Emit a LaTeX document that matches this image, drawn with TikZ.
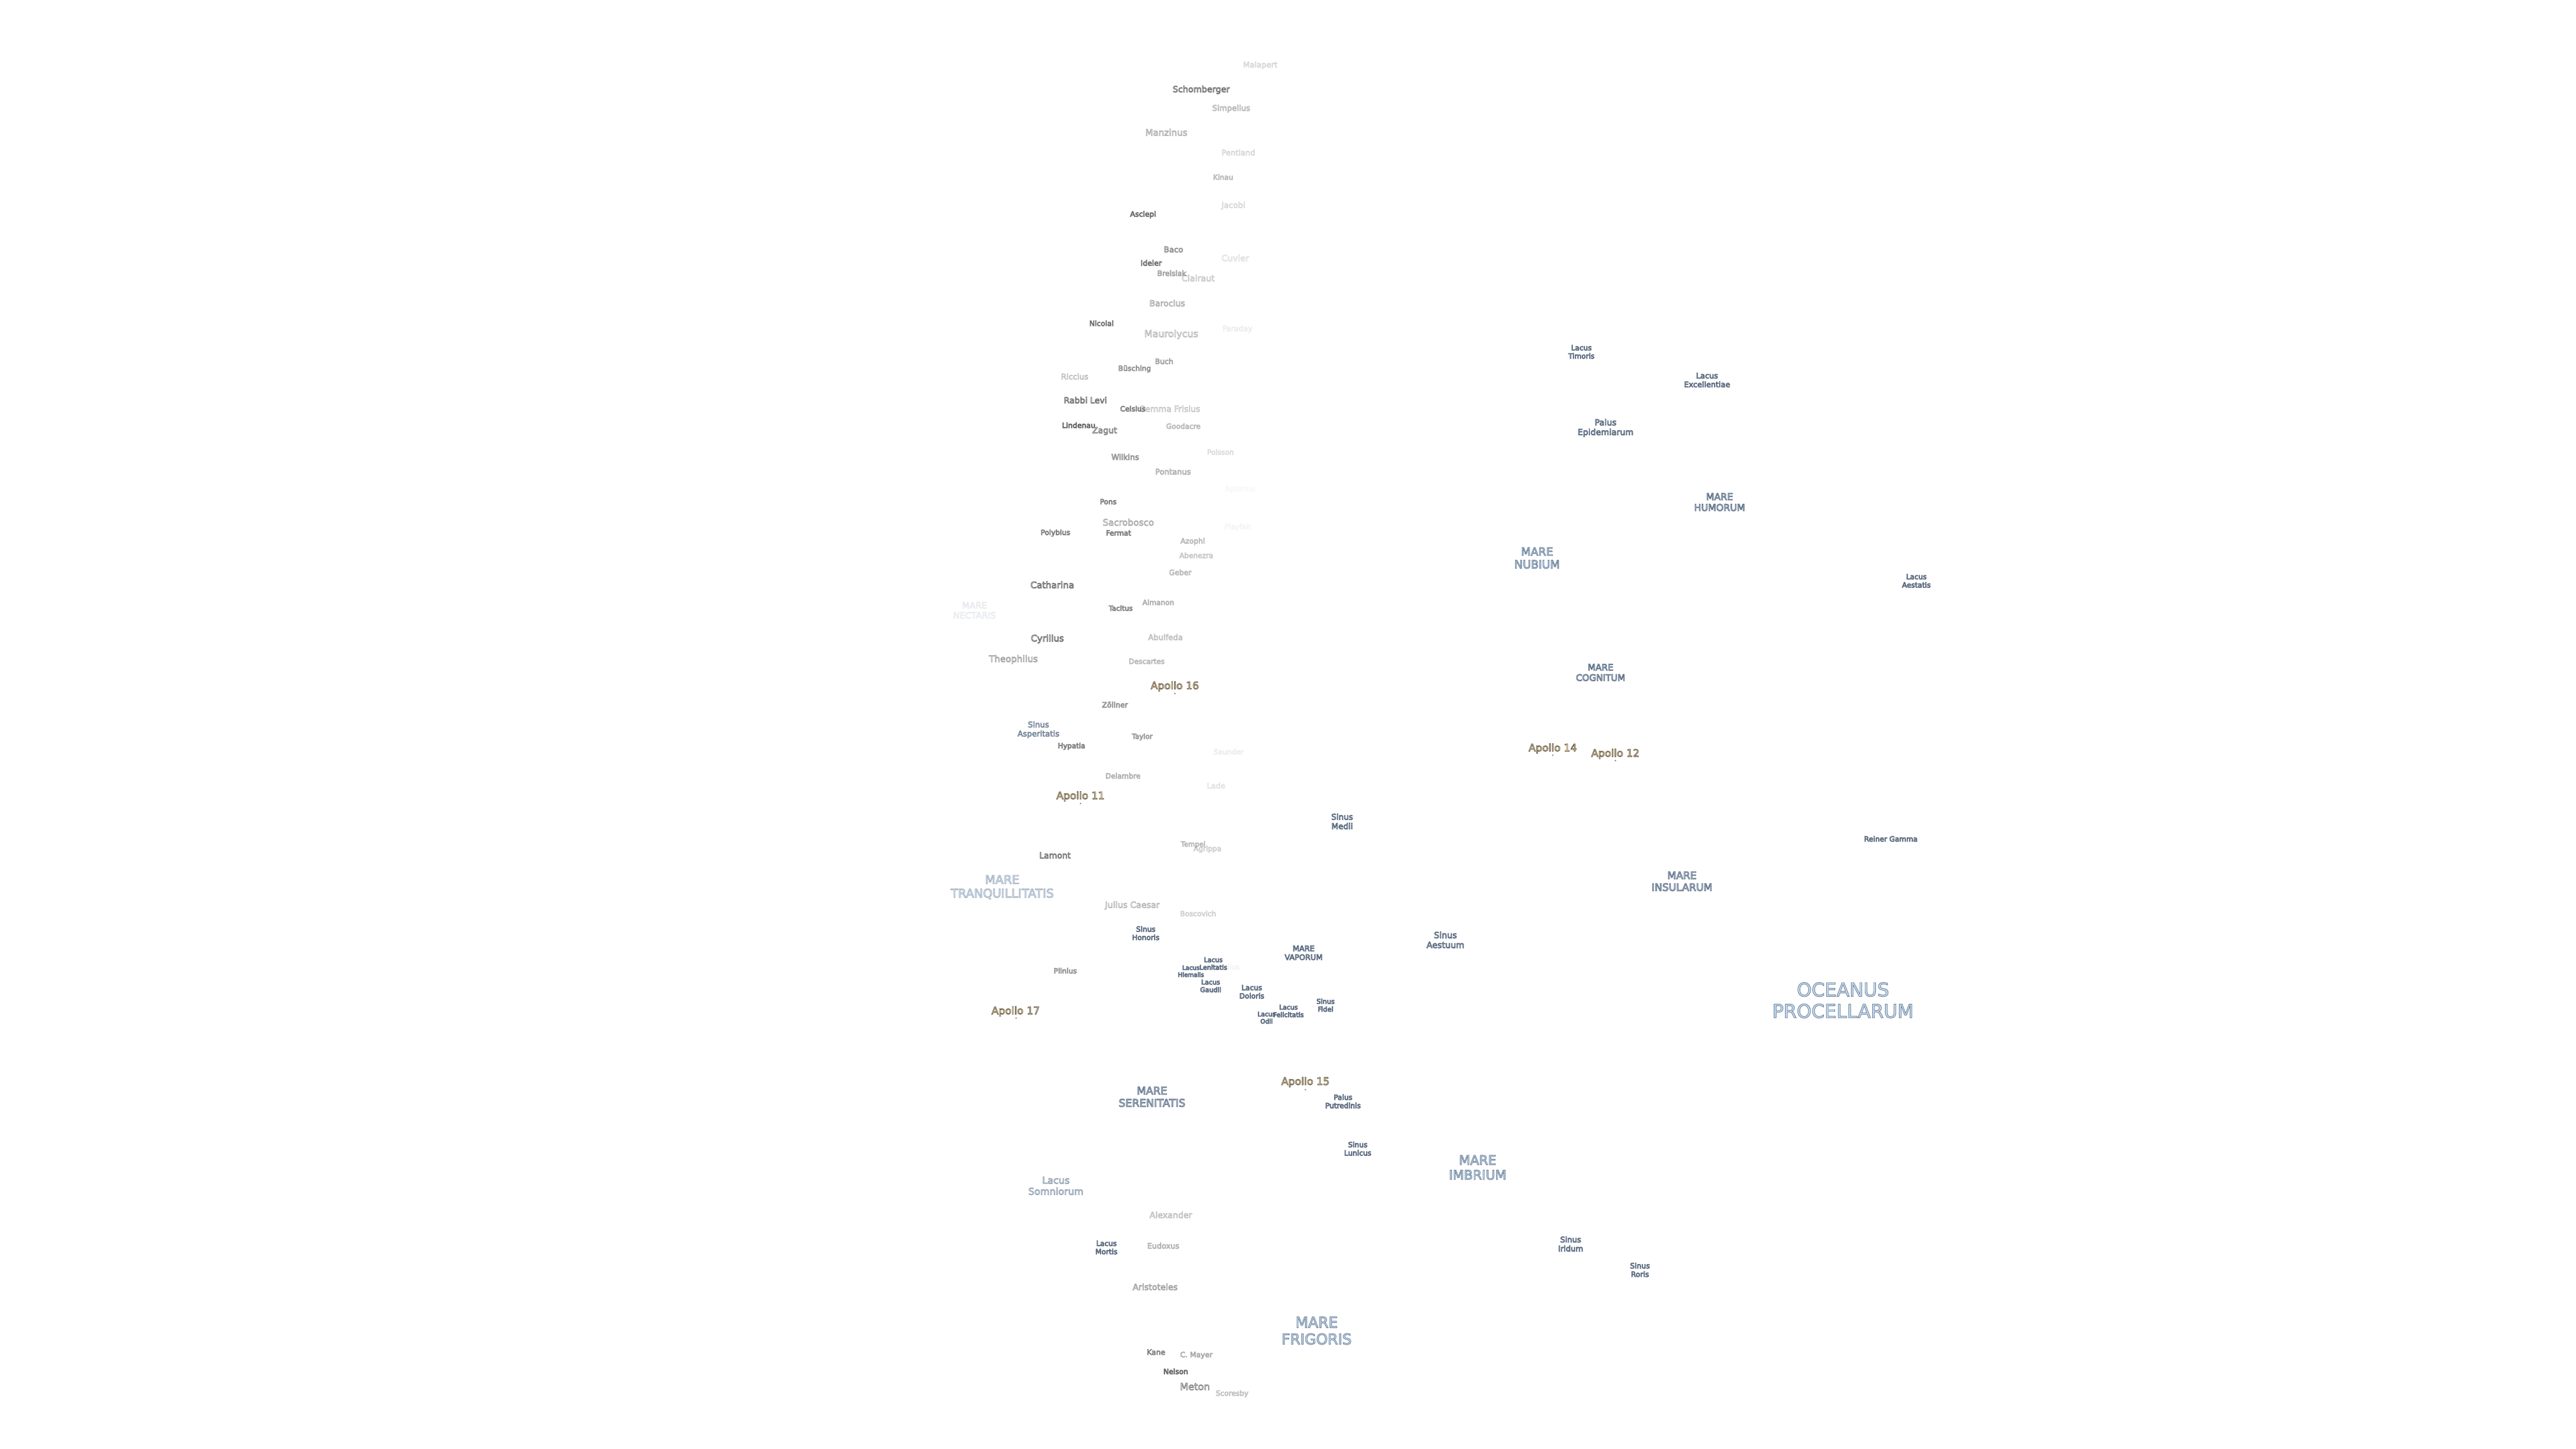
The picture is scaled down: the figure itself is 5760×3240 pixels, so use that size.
\documentclass[tikz,border=0pt]{standalone}
\usepackage{fontspec}
\setmainfont{DejaVu Sans}
\definecolor{marefill}{HTML}{C8E0F8}
\definecolor{landfill}{HTML}{FFE2AE}
\newcommand{\lettering}[2]{\def\rim{\special{pdf:code 2 Tr #1 w #2 RG}}}
\begin{document}
\begin{tikzpicture}[
      x=1bp,y=-1bp,
      lab/.style={inner sep=0pt,align=center,yshift=-1bp},
      crater/.style 2 args={lab,text=white,text opacity=#2,font=\fontsize{#1bp}{\fpeval{1.16*#1}bp}\selectfont,
        execute at begin node={\lettering{1.15}{0.4 0.4 0.4}}},
      mare/.style 2 args={lab,text=marefill,text opacity=#2,font=\fontsize{#1bp}{\fpeval{1.16*#1}bp}\selectfont,
        execute at begin node={\lettering{1.15}{0.36 0.42 0.5}}},
      bigmare/.style 2 args={lab,text=marefill,text opacity=#2,font=\fontsize{#1bp}{\fpeval{1.14*#1}bp}\selectfont,
        execute at begin node={\lettering{1.1}{0.38 0.46 0.55}}},
      apollo/.style={lab,text=landfill,font=\fontsize{23bp}{26bp}\selectfont,
        execute at begin node={\lettering{1}{0.36 0.32 0.24}}},
      landing/.style={circle,inner sep=0pt,minimum size=3.5bp,fill=black!45!landfill},
    ]
    \useasboundingbox (0,0) rectangle (5760,3240);
    \node[crater={17.4}{.25}] (malapert) at (2818,145) {\rim Malapert};
    \node[crater={19}{.9}] (schomberger) at (2686,200) {\rim Schomberger};
    \node[crater={17.5}{.45}] (simpelius) at (2753,242) {\rim Simpelius};
    \node[crater={20}{.5}] (manzinus) at (2608,295) {\rim Manzinus};
    \node[crater={17.2}{.25}] (pentland) at (2769,340) {\rim Pentland};
    \node[crater={16}{.45}] (kinau) at (2735,395) {\rim Kinau};
    \node[crater={17.8}{.25}] (jacobi) at (2758,459) {\rim Jacobi};
    \node[crater={16.3}{.95}] (asclepi) at (2556,479) {\rim Asclepi};
    \node[crater={17.6}{.7}] (baco) at (2624,557) {\rim Baco};
    \node[crater={19}{.2}] (cuvier) at (2762,576) {\rim Cuvier};
    \node[crater={16.5}{.95}] (ideler) at (2574,587) {\rim Ideler};
    \node[crater={18.8}{.35}] (clairaut) at (2679,621) {\rim Clairaut};
    \node[crater={16.3}{.6}] (breislak) at (2620,610) {\rim Breislak};
    \node[crater={18.6}{.5}] (barocius) at (2610,677) {\rim Barocius};
    \node[crater={16.2}{.9}] (nicolai) at (2463,722) {\rim Nicolai};
    \node[crater={16.9}{.12}] (faraday) at (2767,735) {\rim Faraday};
    \node[crater={21.2}{.45}] (maurolycus) at (2619,747) {\rim Maurolycus};
    \node[crater={16.4}{.6}] (buch) at (2603,807) {\rim Buch};
    \node[crater={16}{.7}] (busching) at (2537,824) {\rim Büsching};
    \node[crater={17.4}{.4}] (riccius) at (2403,841) {\rim Riccius};
    \node[crater={18.6}{.9}] (rabbilevi) at (2427,894) {\rim Rabbi Levi};
    \node[crater={18.5}{.35}] (gemma) at (2615,913) {\rim Gemma Frisius};
    \node[crater={16}{.85}] (celsius) at (2533,913) {\rim Celsius};
    \node[crater={16.2}{1}] (lindenau) at (2412,950) {\rim Lindenau};
    \node[crater={18.8}{.8}] (zagut) at (2470,963) {\rim Zagut};
    \node[crater={16}{.45}] (goodacre) at (2646,952) {\rim Goodacre};
    \node[crater={16}{.22}] (poisson) at (2729,1010) {\rim Poisson};
    \node[crater={17.5}{.7}] (wilkins) at (2516,1021) {\rim Wilkins};
    \node[crater={17.3}{.5}] (pontanus) at (2623,1054) {\rim Pontanus};
    \node[crater={17}{.05}] (apianus) at (2773,1093) {\rim Apianus};
    \node[crater={16}{.85}] (pons) at (2478,1121) {\rim Pons};
    \node[crater={20}{.55}] (sacrobosco) at (2523,1167) {\rim Sacrobosco};
    \node[crater={16}{.07}] (playfair) at (2768,1178) {\rim Playfair};
    \node[crater={16}{.85}] (polybius) at (2360,1191) {\rim Polybius};
    \node[crater={16}{.85}] (fermat) at (2501,1191) {\rim Fermat};
    \node[crater={16.2}{.45}] (azophi) at (2667,1210) {\rim Azophi};
    \node[crater={16}{.35}] (abenezra) at (2675,1241) {\rim Abenezra};
    \node[crater={16.4}{.45}] (geber) at (2639,1279) {\rim Geber};
    \node[crater={20}{.95}] (catharina) at (2353,1307) {\rim Catharina};
    \node[crater={15.5}{.8}] (tacitus) at (2506,1359) {\rim Tacitus};
    \node[crater={16}{.5}] (almanon) at (2590,1346) {\rim Almanon};
    \node[crater={17.4}{.4}] (abulfeda) at (2606,1424) {\rim Abulfeda};
    \node[crater={20}{.95}] (cyrillus) at (2342,1428) {\rim Cyrillus};
    \node[crater={20}{.6}] (theophilus) at (2266,1474) {\rim Theophilus};
    \node[crater={16}{.45}] (descartes) at (2564,1478) {\rim Descartes};
    \node[crater={16.4}{.7}] (zollner) at (2493,1575) {\rim Zöllner};
    \node[crater={15.6}{.65}] (taylor) at (2554,1647) {\rim Taylor};
    \node[crater={15.8}{.85}] (hypatia) at (2396,1668) {\rim Hypatia};
    \node[crater={16}{.12}] (saunder) at (2747,1680) {\rim Saunder};
    \node[crater={16}{.5}] (delambre) at (2511,1734) {\rim Delambre};
    \node[crater={17}{.18}] (lade) at (2719,1756) {\rim Lade};
    \node[crater={16}{.3}] (agrippa) at (2700,1898) {\rim Agrippa};
    \node[crater={15.4}{.45}] (tempel) at (2668,1888) {\rim Tempel};
    \node[crater={18.6}{.9}] (lamont) at (2359,1912) {\rim Lamont};
    \node[crater={19}{.45}] (julius) at (2532,2024) {\rim Julius Caesar};
    \node[crater={16}{.3}] (boscovich) at (2679,2042) {\rim Boscovich};
    \node[crater={16}{.7}] (plinius) at (2382,2170) {\rim Plinius};
    \node[crater={16}{.08}] (manilius) at (2739,2161) {\rim Manilius};
    \node[crater={18.8}{.4}] (alexander) at (2618,2716) {\rim Alexander};
    \node[crater={17}{.5}] (eudoxus) at (2601,2785) {\rim Eudoxus};
    \node[crater={18.9}{.6}] (aristoteles) at (2583,2877) {\rim Aristoteles};
    \node[crater={16.4}{.8}] (kane) at (2585,3023) {\rim Kane};
    \node[crater={16.3}{.55}] (cmayer) at (2675,3030) {\rim C. Mayer};
    \node[crater={16.2}{1}] (neison) at (2629,3066) {\rim Neison};
    \node[crater={21.5}{.8}] (meton) at (2672,3100) {\rim Meton};
    \node[crater={16}{.4}] (scoresby) at (2755,3116) {\rim Scoresby};
    \node[mare={19.4}{.13}] (nectaris) at (2179,1364) {\rim MARE\\\rim NECTARIS};
    \node[mare={17.5}{.75}] (asperitatis) at (2322,1631) {\rim Sinus\\\rim Asperitatis};
    \node[mare={18}{1}] (medii) at (3001,1836) {\rim Sinus\\\rim Medii};
    \node[bigmare={26.8}{.6}] (tranquillitatis) at (2241,1983) {\rim MARE\\\rim TRANQUILLITATIS};
    \node[mare={16}{1}] (honoris) at (2562,2086) {\rim Sinus\\\rim Honoris};
    \node[mare={17}{1}] (vaporum) at (2915,2130) {\rim MARE\\\rim VAPORUM};
    \node[mare={14.5}{1}] (lenitatis) at (2713,2154) {\rim Lacus\\\rim Lenitatis};
    \node[mare={13.5}{1}] (hiemalis) at (2663,2171) {\rim Lacus\\\rim Hiemalis};
    \node[mare={14.7}{1}] (gaudii) at (2707,2204) {\rim Lacus\\\rim Gaudii};
    \node[mare={16}{1}] (doloris) at (2799,2217) {\rim Lacus\\\rim Doloris};
    \node[mare={14.5}{1}] (felicitatis) at (2881,2260) {\rim Lacus\\\rim Felicitatis};
    \node[mare={14}{1}] (odii) at (2832,2275) {\rim Lacus\\\rim Odii};
    \node[mare={15}{1}] (fidei) at (2964,2247) {\rim Sinus\\\rim Fidei};
    \node[mare={23.6}{1}] (serenitatis) at (2576,2452) {\rim MARE\\\rim SERENITATIS};
    \node[mare={16}{1}] (putredinis) at (3003,2462) {\rim Palus\\\rim Putredinis};
    \node[mare={16}{1}] (lunicus) at (3036,2568) {\rim Sinus\\\rim Lunicus};
    \node[mare={21.4}{.6}] (somniorum) at (2361,2651) {\rim Lacus\\\rim Somniorum};
    \node[mare={16}{1}] (mortis) at (2474,2789) {\rim Lacus\\\rim Mortis};
    \node[bigmare={33}{1}] (frigoris) at (2944,2975) {\rim MARE\\\rim FRIGORIS};
    \node[mare={16}{1}] (timoris) at (3536,786) {\rim Lacus\\\rim Timoris};
    \node[mare={17}{1}] (excellentiae) at (3817,849) {\rim Lacus\\\rim Excellentiae};
    \node[mare={18.7}{1}] (epidemiarum) at (3590,956) {\rim Palus\\\rim Epidemiarum};
    \node[mare={21}{1}] (humorum) at (3845,1122) {\rim MARE\\\rim HUMORUM};
    \node[bigmare={25}{1}] (nubium) at (3437,1247) {\rim MARE\\\rim NUBIUM};
    \node[mare={16}{1}] (aestatis) at (4285,1298) {\rim Lacus\\\rim Aestatis};
    \node[mare={20}{1}] (cognitum) at (3579,1503) {\rim MARE\\\rim COGNITUM};
    \node[mare={16}{1}] (reiner) at (4228,1875) {\rim Reiner Gamma};
    \node[mare={22.8}{1}] (insularum) at (3761,1970) {\rim MARE\\\rim INSULARUM};
    \node[mare={19}{1}] (aestuum) at (3232,2101) {\rim Sinus\\\rim Aestuum};
    \node[bigmare={42}{1}] (procellarum) at (4121,2236) {\rim OCEANUS\\\rim PROCELLARUM};
    \node[bigmare={29}{1}] (imbrium) at (3304,2610) {\rim MARE\\\rim IMBRIUM};
    \node[mare={17.3}{1}] (iridum) at (3512,2781) {\rim Sinus\\\rim Iridum};
    \node[mare={16.4}{1}] (roris) at (3667,2839) {\rim Sinus\\\rim Roris};
    \node[apollo] (apolloxvi) at (2627,1534) {\rim Apollo 16};
    \node[landing] (sitexvi) at (2627,1551) {};
    \node[apollo] (apolloxi) at (2416,1780) {\rim Apollo 11};
    \node[landing] (sitexi) at (2416,1797) {};
    \node[apollo] (apolloxvii) at (2271,2261) {\rim Apollo 17};
    \node[landing] (sitexvii) at (2272,2277) {};
    \node[apollo] (apolloxv) at (2919,2419) {\rim Apollo 15};
    \node[landing] (sitexv) at (2919,2437) {};
    \node[apollo] (apolloxiv) at (3472,1673) {\rim Apollo 14};
    \node[landing] (sitexiv) at (3472,1689) {};
    \node[apollo] (apolloxii) at (3612,1685) {\rim Apollo 12};
    \node[landing] (sitexii) at (3612,1701) {};
\end{tikzpicture}
\end{document}
